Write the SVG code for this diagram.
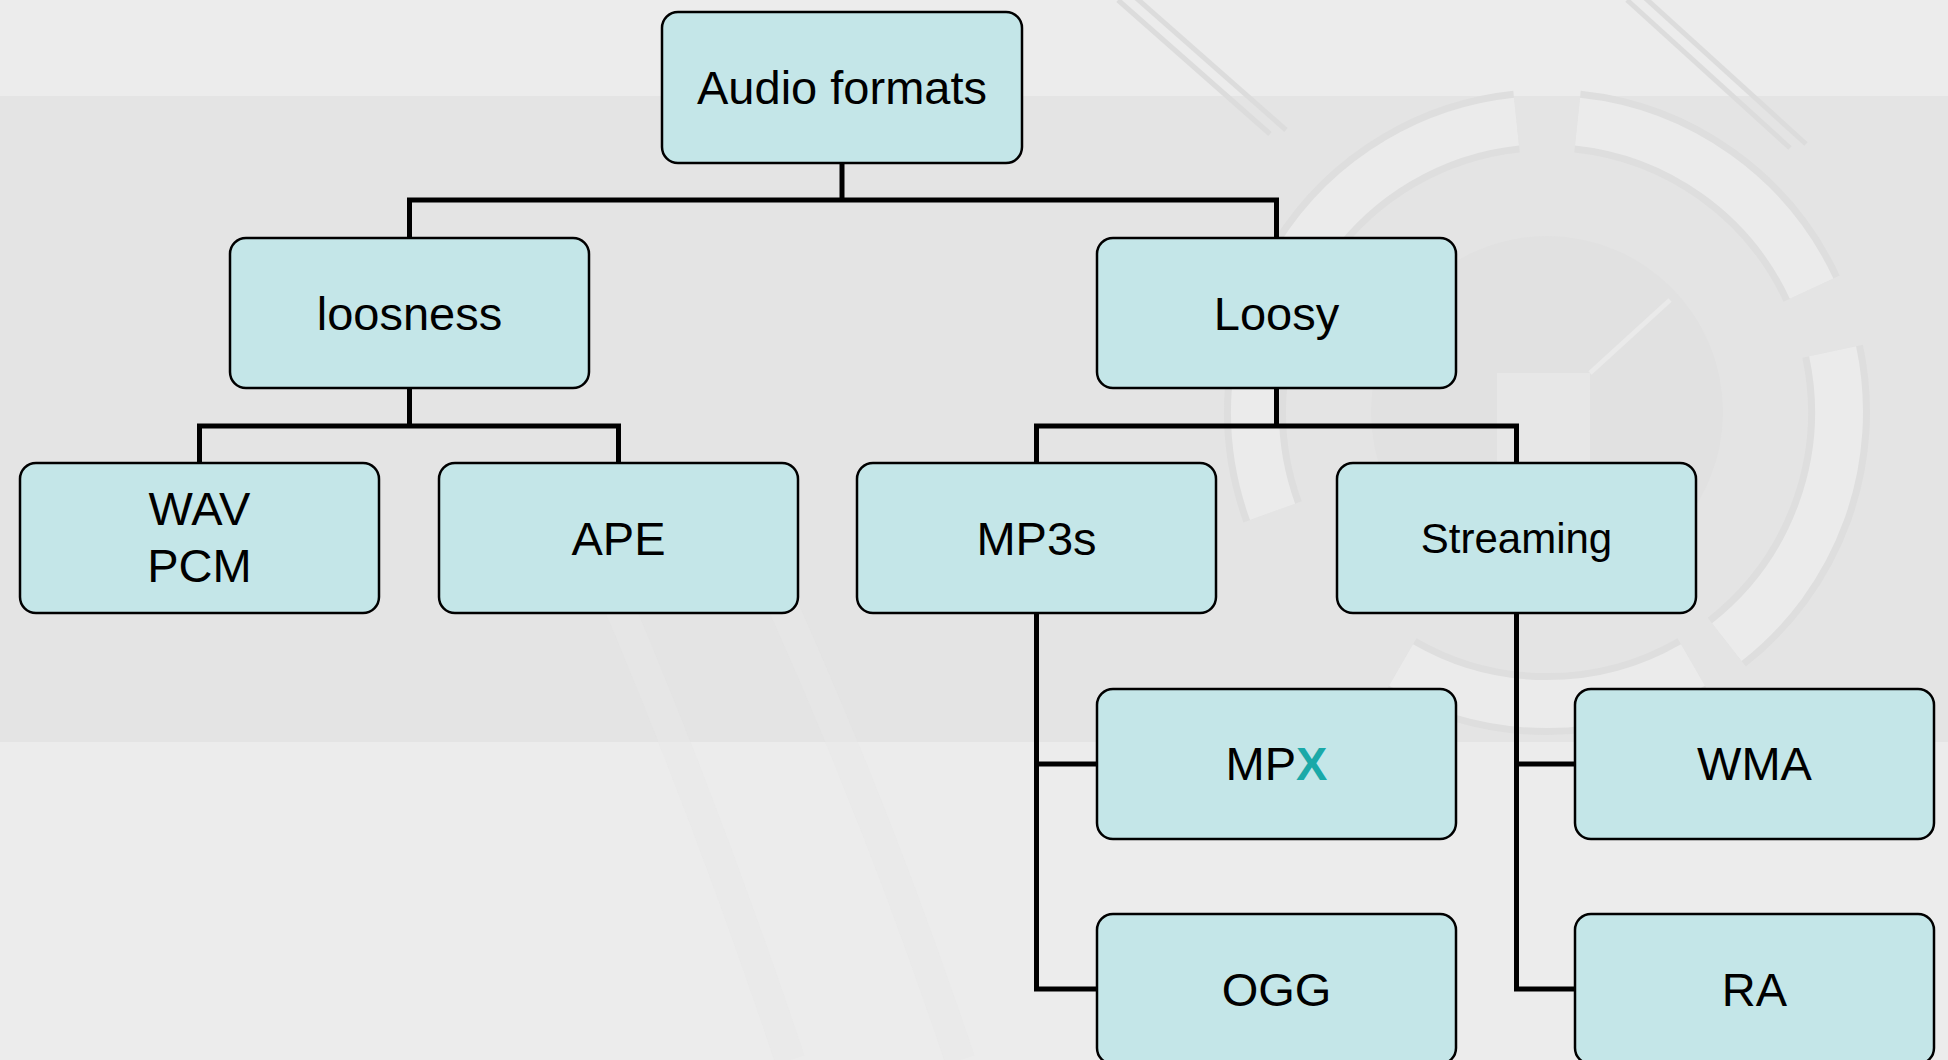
<svg xmlns="http://www.w3.org/2000/svg" width="1948" height="1060" viewBox="0 0 1948 1060">
  <defs>
    <style>
      .node rect { fill: #c4e6e8; stroke: #000; stroke-width: 2.5; }
      .node text { font-family: "Liberation Sans", Arial, sans-serif; font-size: 47px; fill: #000; text-anchor: middle; }
      .conn { fill: none; stroke: #000; stroke-width: 5; stroke-linejoin: miter; }
      .ring-o { fill: none; stroke: #dedede; stroke-width: 62; }
      .ring-i { fill: none; stroke: #ebebeb; stroke-width: 48; }
      .diag { stroke: #dcdcdc; stroke-width: 5; }
    </style>
  </defs>

  <!-- background -->
  <g id="background">
    <rect x="0" y="0" width="1948" height="1060" fill="#ececec"/>
    <rect x="0" y="96" width="1948" height="646" fill="#e4e4e4"/>
    <path d="M560,470 Q690,760 790,1060" fill="none" stroke="#e8e8e8" stroke-width="30" opacity="0.5"/>
    <path d="M720,470 Q860,760 960,1060" fill="none" stroke="#e8e8e8" stroke-width="30" opacity="0.5"/>
    <line class="diag" x1="1118" y1="0" x2="1270" y2="134"/>
    <line class="diag" x1="1134" y1="-4" x2="1286" y2="130"/>
    <line class="diag" x1="1627" y1="0" x2="1790" y2="148"/>
    <line class="diag" x1="1643" y1="-4" x2="1806" y2="144"/>
    <circle cx="1547" cy="412" r="176" fill="#e1e1e1"/>
    <rect x="1497" y="373" width="93" height="124" fill="#e7e7e7"/>
    <line x1="1590" y1="373" x2="1670" y2="300" stroke="#eaeaea" stroke-width="5"/>
    <!-- ring segments -->
    <path class="ring-o" d="M1516.5,121.6 A292,292 0 0 0 1272.6,511.9"/>
    <path class="ring-i" d="M1516.5,121.6 A292,292 0 0 0 1272.6,511.9"/>
    <path class="ring-o" d="M1577.5,121.6 A292,292 0 0 1 1811.6,288.6"/>
    <path class="ring-i" d="M1577.5,121.6 A292,292 0 0 1 1811.6,288.6"/>
    <path class="ring-o" d="M1832.6,351.3 A292,292 0 0 1 1726.8,642.1"/>
    <path class="ring-i" d="M1832.6,351.3 A292,292 0 0 1 1726.8,642.1"/>
    <path class="ring-o" d="M1693,665 A292,292 0 0 1 1401,665"/>
    <path class="ring-i" d="M1693,665 A292,292 0 0 1 1401,665"/>
  </g>

  <!-- connectors -->
  <g id="connectors">
    <path class="conn" d="M842,163 V200 M409.5,238 V200 H1276.5 V238"/>
    <path class="conn" d="M409.5,388 V426 M199.5,463 V426 H618.5 V463"/>
    <path class="conn" d="M1276.5,388 V426 M1036.5,463 V426 H1516.5 V463"/>
    <path class="conn" d="M1036.5,613 V989 H1097 M1036.5,764 H1097"/>
    <path class="conn" d="M1516.5,613 V989 H1575 M1516.5,764 H1575"/>
  </g>

  <!-- nodes -->
  <g id="node-audio-formats" class="node">
    <rect x="662" y="12" width="360" height="151" rx="16"/>
    <text x="842" y="104">Audio formats</text>
  </g>
  <g id="node-loosness" class="node">
    <rect x="230" y="238" width="359" height="150" rx="16"/>
    <text x="409.5" y="330">loosness</text>
  </g>
  <g id="node-loosy" class="node">
    <rect x="1097" y="238" width="359" height="150" rx="16"/>
    <text x="1276.5" y="330">Loosy</text>
  </g>
  <g id="node-wav-pcm" class="node">
    <rect x="20" y="463" width="359" height="150" rx="16"/>
    <text x="199.5" y="525">WAV</text>
    <text x="199.5" y="582">PCM</text>
  </g>
  <g id="node-ape" class="node">
    <rect x="439" y="463" width="359" height="150" rx="16"/>
    <text x="618.5" y="555">APE</text>
  </g>
  <g id="node-mp3s" class="node">
    <rect x="857" y="463" width="359" height="150" rx="16"/>
    <text x="1036.5" y="555">MP3s</text>
  </g>
  <g id="node-streaming" class="node">
    <rect x="1337" y="463" width="359" height="150" rx="16"/>
    <text x="1516.5" y="553" style="font-size:42px">Streaming</text>
  </g>
  <g id="node-mpx" class="node">
    <rect x="1097" y="689" width="359" height="150" rx="16"/>
    <text x="1276.5" y="780">MP<tspan fill="#1aa9a8" font-weight="bold">X</tspan></text>
  </g>
  <g id="node-ogg" class="node">
    <rect x="1097" y="914" width="359" height="150" rx="16"/>
    <text x="1276.5" y="1006">OGG</text>
  </g>
  <g id="node-wma" class="node">
    <rect x="1575" y="689" width="359" height="150" rx="16"/>
    <text x="1754.5" y="780">WMA</text>
  </g>
  <g id="node-ra" class="node">
    <rect x="1575" y="914" width="359" height="150" rx="16"/>
    <text x="1754.5" y="1006">RA</text>
  </g>
</svg>
